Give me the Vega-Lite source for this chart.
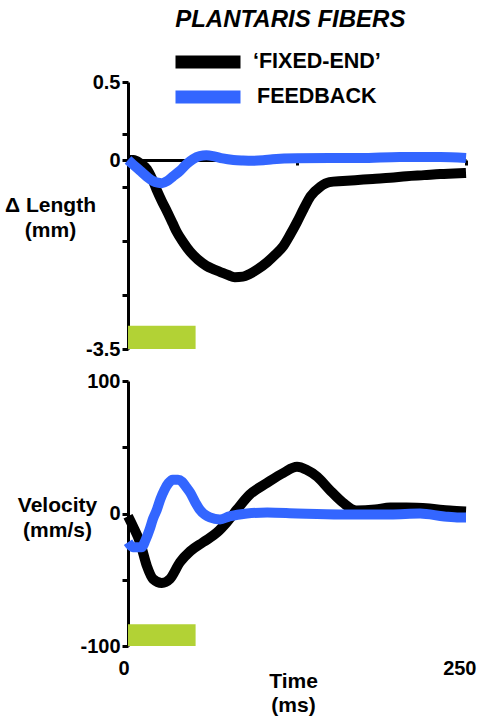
{
  "$schema": "https://vega.github.io/schema/vega-lite/v6.json",
  "padding": {"left": 4, "top": 8, "right": 5, "bottom": 5},
  "title": {"text": "PLANTARIS FIBERS", "fontSize": 24, "fontStyle": "italic", "fontWeight": "bold", "font": "Liberation Sans", "color": "black", "anchor": "middle", "dx": 45, "offset": -9},
  "datasets": {
    "len": [
      {"series": "‘FIXED-END’", "t": 0, "v": 0}, {"series": "‘FIXED-END’", "t": 4, "v": 0}, {"series": "‘FIXED-END’", "t": 9, "v": -0.06}, {"series": "‘FIXED-END’", "t": 14, "v": -0.17}, {"series": "‘FIXED-END’", "t": 18, "v": -0.36}, {"series": "‘FIXED-END’", "t": 21, "v": -0.54}, {"series": "‘FIXED-END’", "t": 25, "v": -0.76}, {"series": "‘FIXED-END’", "t": 29, "v": -0.96}, {"series": "‘FIXED-END’", "t": 33, "v": -1.17}, {"series": "‘FIXED-END’", "t": 36, "v": -1.33}, {"series": "‘FIXED-END’", "t": 41, "v": -1.53}, {"series": "‘FIXED-END’", "t": 46, "v": -1.7}, {"series": "‘FIXED-END’", "t": 52, "v": -1.85}, {"series": "‘FIXED-END’", "t": 58, "v": -1.96}, {"series": "‘FIXED-END’", "t": 63, "v": -2.02}, {"series": "‘FIXED-END’", "t": 68, "v": -2.07}, {"series": "‘FIXED-END’", "t": 74, "v": -2.13}, {"series": "‘FIXED-END’", "t": 79, "v": -2.17}, {"series": "‘FIXED-END’", "t": 85, "v": -2.16}, {"series": "‘FIXED-END’", "t": 90, "v": -2.11}, {"series": "‘FIXED-END’", "t": 96, "v": -2.02}, {"series": "‘FIXED-END’", "t": 103, "v": -1.89}, {"series": "‘FIXED-END’", "t": 109, "v": -1.75}, {"series": "‘FIXED-END’", "t": 115, "v": -1.59}, {"series": "‘FIXED-END’", "t": 120, "v": -1.38}, {"series": "‘FIXED-END’", "t": 125, "v": -1.15}, {"series": "‘FIXED-END’", "t": 130, "v": -0.9}, {"series": "‘FIXED-END’", "t": 135, "v": -0.67}, {"series": "‘FIXED-END’", "t": 142, "v": -0.5}, {"series": "‘FIXED-END’", "t": 149, "v": -0.41}, {"series": "‘FIXED-END’", "t": 159, "v": -0.39}, {"series": "‘FIXED-END’", "t": 170, "v": -0.37}, {"series": "‘FIXED-END’", "t": 181, "v": -0.35}, {"series": "‘FIXED-END’", "t": 194, "v": -0.33}, {"series": "‘FIXED-END’", "t": 206, "v": -0.3}, {"series": "‘FIXED-END’", "t": 219, "v": -0.28}, {"series": "‘FIXED-END’", "t": 231, "v": -0.26}, {"series": "‘FIXED-END’", "t": 241, "v": -0.25}, {"series": "‘FIXED-END’", "t": 250, "v": -0.24},
      {"series": "FEEDBACK", "t": 0, "v": 0}, {"series": "FEEDBACK", "t": 4, "v": -0.09}, {"series": "FEEDBACK", "t": 9, "v": -0.2}, {"series": "FEEDBACK", "t": 14, "v": -0.31}, {"series": "FEEDBACK", "t": 18.5, "v": -0.39}, {"series": "FEEDBACK", "t": 22, "v": -0.42}, {"series": "FEEDBACK", "t": 25, "v": -0.43}, {"series": "FEEDBACK", "t": 29, "v": -0.39}, {"series": "FEEDBACK", "t": 33, "v": -0.31}, {"series": "FEEDBACK", "t": 38.5, "v": -0.2}, {"series": "FEEDBACK", "t": 43.6, "v": -0.07}, {"series": "FEEDBACK", "t": 48, "v": 0.005}, {"series": "FEEDBACK", "t": 53, "v": 0.025}, {"series": "FEEDBACK", "t": 58, "v": 0.03}, {"series": "FEEDBACK", "t": 63, "v": 0.025}, {"series": "FEEDBACK", "t": 70, "v": 0.01}, {"series": "FEEDBACK", "t": 78, "v": 0}, {"series": "FEEDBACK", "t": 85, "v": -0.01}, {"series": "FEEDBACK", "t": 92, "v": -0.015}, {"series": "FEEDBACK", "t": 100, "v": -0.005}, {"series": "FEEDBACK", "t": 107, "v": 0.005}, {"series": "FEEDBACK", "t": 125, "v": 0.012}, {"series": "FEEDBACK", "t": 149, "v": 0.013}, {"series": "FEEDBACK", "t": 172, "v": 0.013}, {"series": "FEEDBACK", "t": 201, "v": 0.02}, {"series": "FEEDBACK", "t": 231, "v": 0.02}, {"series": "FEEDBACK", "t": 250, "v": 0.013}
    ],
    "vel": [
      {"series": "‘FIXED-END’", "t": 0, "v": -2}, {"series": "‘FIXED-END’", "t": 3.7, "v": -9.7}, {"series": "‘FIXED-END’", "t": 8.9, "v": -21.7}, {"series": "‘FIXED-END’", "t": 14, "v": -39.7}, {"series": "‘FIXED-END’", "t": 18.5, "v": -49.4}, {"series": "‘FIXED-END’", "t": 25, "v": -52.4}, {"series": "‘FIXED-END’", "t": 31, "v": -49.4}, {"series": "‘FIXED-END’", "t": 38.5, "v": -36.7}, {"series": "‘FIXED-END’", "t": 46, "v": -28.5}, {"series": "‘FIXED-END’", "t": 55.5, "v": -21.7}, {"series": "‘FIXED-END’", "t": 66, "v": -14.2}, {"series": "‘FIXED-END’", "t": 73, "v": -6.7}, {"series": "‘FIXED-END’", "t": 80.6, "v": 3}, {"series": "‘FIXED-END’", "t": 90, "v": 14.2}, {"series": "‘FIXED-END’", "t": 103, "v": 23.2}, {"series": "‘FIXED-END’", "t": 115, "v": 30.7}, {"series": "‘FIXED-END’", "t": 125, "v": 35.2}, {"series": "‘FIXED-END’", "t": 132, "v": 33}, {"series": "‘FIXED-END’", "t": 140, "v": 27.7}, {"series": "‘FIXED-END’", "t": 149, "v": 18}, {"series": "‘FIXED-END’", "t": 159, "v": 8.2}, {"series": "‘FIXED-END’", "t": 169, "v": 2.2}, {"series": "‘FIXED-END’", "t": 183, "v": 3}, {"series": "‘FIXED-END’", "t": 194, "v": 4.5}, {"series": "‘FIXED-END’", "t": 206, "v": 4.5}, {"series": "‘FIXED-END’", "t": 223, "v": 3.7}, {"series": "‘FIXED-END’", "t": 238, "v": 2.2}, {"series": "‘FIXED-END’", "t": 250, "v": 1.5},
      {"series": "FEEDBACK", "t": 0, "v": -21.7}, {"series": "FEEDBACK", "t": 3.7, "v": -25.5}, {"series": "FEEDBACK", "t": 10, "v": -25.5}, {"series": "FEEDBACK", "t": 13, "v": -20}, {"series": "FEEDBACK", "t": 16, "v": -12}, {"series": "FEEDBACK", "t": 18.5, "v": -4}, {"series": "FEEDBACK", "t": 21.4, "v": 3}, {"series": "FEEDBACK", "t": 24, "v": 11}, {"series": "FEEDBACK", "t": 27, "v": 18}, {"series": "FEEDBACK", "t": 30, "v": 23}, {"series": "FEEDBACK", "t": 33, "v": 25.5}, {"series": "FEEDBACK", "t": 37, "v": 25.5}, {"series": "FEEDBACK", "t": 40, "v": 24}, {"series": "FEEDBACK", "t": 43, "v": 20}, {"series": "FEEDBACK", "t": 46, "v": 15.7}, {"series": "FEEDBACK", "t": 50, "v": 8}, {"series": "FEEDBACK", "t": 53, "v": 3}, {"series": "FEEDBACK", "t": 57, "v": -1}, {"series": "FEEDBACK", "t": 60.6, "v": -3}, {"series": "FEEDBACK", "t": 68, "v": -4.5}, {"series": "FEEDBACK", "t": 75, "v": -2.2}, {"series": "FEEDBACK", "t": 88, "v": 0}, {"series": "FEEDBACK", "t": 103, "v": 0.7}, {"series": "FEEDBACK", "t": 125, "v": 0}, {"series": "FEEDBACK", "t": 157, "v": -0.7}, {"series": "FEEDBACK", "t": 194, "v": -0.7}, {"series": "FEEDBACK", "t": 216, "v": 0}, {"series": "FEEDBACK", "t": 234, "v": -2.2}, {"series": "FEEDBACK", "t": 245, "v": -3}, {"series": "FEEDBACK", "t": 250, "v": -3}
    ],
    "stimLen": [{"t": 0, "t_end": 50, "v": -3.5, "v_end": -3.07}],
    "stimVel": [{"t": 0, "t_end": 50, "v": -100, "v_end": -83.5}]
  },
  "bounds": "flush",
  "spacing": 32,
  "vconcat": [
    {
      "width": 338,
      "height": 267,
      "layer": [
        {
          "data": {"name": "stimLen"},
          "mark": {"type": "rect", "color": "#b2d235"},
          "encoding": {
            "x": {"field": "t", "type": "quantitative", "scale": {"domain": [0, 250], "nice": false},
              "axis": {"orient": "bottom", "offset": -189, "values": [125, 250], "labels": false, "title": null, "tickSize": 5}},
            "x2": {"field": "t_end"},
            "y": {"field": "v", "type": "quantitative", "scale": {"domain": [-3.5, 0, 0.5], "range": [267, 78, 0], "nice": false},
              "axis": {"values": [-3.5, -2.5, -1.5, -0.5, 0, 0.1667, 0.5],
                "labelExpr": "datum.value == 0.5 ? '0.5' : datum.value == 0 ? '0' : datum.value == -3.5 ? '-3.5' : ''",
                "title": ["Δ Length", "(mm)"], "titleAngle": 0, "titleAlign": "center", "titleBaseline": "alphabetic",
                "titleX": -78, "titleY": 129, "titleLineHeight": 25}},
            "y2": {"field": "v_end"}
          }
        },
        {
          "data": {"name": "len"},
          "transform": [{"filter": "datum.series != 'FEEDBACK'"}],
          "mark": {"type": "line", "strokeWidth": 10, "interpolate": "monotone"},
          "encoding": {
            "x": {"field": "t", "type": "quantitative"},
            "y": {"field": "v", "type": "quantitative"},
            "color": {"field": "series", "type": "nominal"}
          }
        },
        {
          "data": {"name": "len"},
          "transform": [{"filter": "datum.series == 'FEEDBACK'"}],
          "mark": {"type": "line", "strokeWidth": 10, "interpolate": "monotone"},
          "encoding": {
            "x": {"field": "t", "type": "quantitative"},
            "y": {"field": "v", "type": "quantitative"},
            "stroke": {"field": "series", "type": "nominal"}
          }
        }
      ]
    },
    {
      "width": 338,
      "height": 265,
      "layer": [
        {
          "data": {"name": "stimVel"},
          "mark": {"type": "rect", "color": "#b2d235"},
          "encoding": {
            "x": {"field": "t", "type": "quantitative", "scale": {"domain": [0, 250], "nice": false},
              "axis": {"values": [0, 250], "domain": false, "ticks": false, "tickSize": 0, "labelPadding": 12, "labelFlush": true, "labelFlushOffset": 10,
                "title": ["Time", "(ms)"], "titleX": 165, "titleY": 41, "titleBaseline": "alphabetic", "titleLineHeight": 24}},
            "x2": {"field": "t_end"},
            "y": {"field": "v", "type": "quantitative", "scale": {"domain": [-100, 100], "nice": false},
              "axis": {"values": [-100, -50, 0, 50, 100],
                "labelExpr": "datum.value == 100 ? '100' : datum.value == 0 ? '0' : datum.value == -100 ? '-100' : ''",
                "title": ["Velocity", "(mm/s)"], "titleAngle": 0, "titleAlign": "center", "titleBaseline": "alphabetic",
                "titleX": -71, "titleY": 130, "titleLineHeight": 25}},
            "y2": {"field": "v_end"}
          }
        },
        {
          "mark": {"type": "rule", "color": "black", "strokeWidth": 3},
          "encoding": {"y": {"datum": 0}}
        },
        {
          "data": {"name": "vel"},
          "transform": [{"filter": "datum.series != 'FEEDBACK'"}],
          "mark": {"type": "line", "strokeWidth": 10, "interpolate": "monotone"},
          "encoding": {
            "x": {"field": "t", "type": "quantitative"},
            "y": {"field": "v", "type": "quantitative"},
            "color": {"field": "series", "type": "nominal",
              "scale": {"domain": ["‘FIXED-END’"], "range": ["#000000"]},
              "legend": {"orient": "none", "legendX": 41, "legendY": -59, "title": null, "symbolType": "stroke",
                "symbolSize": 4225, "symbolStrokeWidth": 13, "labelFontSize": 21.5, "labelFontWeight": "bold",
                "labelFont": "Liberation Sans", "labelColor": "black", "labelOffset": 6, "padding": 0}}
          }
        },
        {
          "data": {"name": "vel"},
          "transform": [{"filter": "datum.series == 'FEEDBACK'"}],
          "mark": {"type": "line", "strokeWidth": 10, "interpolate": "monotone"},
          "encoding": {
            "x": {"field": "t", "type": "quantitative"},
            "y": {"field": "v", "type": "quantitative"},
            "stroke": {"field": "series", "type": "nominal",
              "scale": {"domain": ["FEEDBACK"], "range": ["#3366ff"]},
              "legend": {"orient": "none", "legendX": 41, "legendY": -24, "title": null, "symbolType": "stroke",
                "symbolSize": 4225, "symbolStrokeWidth": 13, "labelFontSize": 21.5, "labelFontWeight": "bold",
                "labelFont": "Liberation Sans", "labelColor": "black", "labelOffset": 10, "padding": 0}}
          }
        }
      ]
    }
  ],
  "config": {
    "view": {"stroke": null},
    "font": "Liberation Sans",
    "axis": {"domainColor": "black", "domainWidth": 3, "tickColor": "black", "tickWidth": 3, "tickSize": 6,
      "labelFont": "Liberation Sans", "labelFontSize": 20, "labelFontWeight": "bold", "labelColor": "black", "labelPadding": 2,
      "titleFont": "Liberation Sans", "titleFontSize": 21, "titleFontWeight": "bold", "titleColor": "black", "grid": false}
  }
}
